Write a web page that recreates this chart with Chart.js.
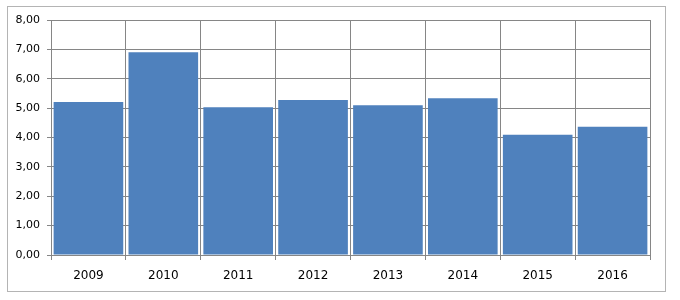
<!DOCTYPE html>
<html>
<head>
<meta charset="utf-8">
<script src="https://cdn.jsdelivr.net/npm/chart.js@4/dist/chart.umd.min.js"></script>
<style>
  html, body { margin: 0; padding: 0; background: #ffffff; }
  #wrap { position: relative; width: 680px; height: 300px; }
</style>
</head>
<body>
<div id="wrap"><canvas id="chart" width="680" height="300"></canvas></div>
<script>
const years = ["2009", "2010", "2011", "2012", "2013", "2014", "2015", "2016"];
const values = [5.21, 6.90, 5.03, 5.28, 5.10, 5.34, 4.09, 4.37];
const yMin = 0;
const yMax = 8;
const yStep = 1;

const gridColor = "#868686";
const barColor = "#4f81bd";

// outer frame around the whole chart
const framePlugin = {
  id: "frame",
  beforeDraw(chart) {
    const ctx = chart.ctx;
    ctx.save();
    ctx.fillStyle = "#ffffff";
    ctx.fillRect(0, 0, chart.width, chart.height);
    ctx.strokeStyle = "#b4b4b4";
    ctx.lineWidth = 1;
    ctx.strokeRect(7.5, 6.5, 658, 285);
    ctx.restore();
  },
};

new Chart(document.getElementById("chart"), {
  type: "bar",
  data: {
    labels: years,
    datasets: [{
      data: values,
      backgroundColor: barColor,
      borderWidth: 0,
      barPercentage: 0.93,
      categoryPercentage: 1,
    }],
  },
  options: {
    responsive: false,
    animation: false,
    layout: { padding: { left: 0, top: 20, right: 30, bottom: 0 } },
    plugins: {
      legend: { display: false },
      tooltip: { enabled: false },
    },
    scales: {
      x: {
        offset: true,
        grid: {
          offset: true,
          color: gridColor,
          tickLength: 5,
          drawTicks: true,
        },
        border: { color: gridColor },
        ticks: {
          color: "#000000",
          padding: 9,
          font: { family: "DejaVu Sans", size: 12 },
        },
        afterFit(scale) { scale.height = 45; },
      },
      y: {
        min: yMin,
        max: yMax,
        grid: {
          color: gridColor,
          tickLength: 4,
          drawTicks: true,
        },
        border: { color: gridColor },
        ticks: {
          stepSize: yStep,
          color: "#000000",
          padding: 7,
          font: { family: "DejaVu Sans", size: 11 },
          callback: (v) => v.toFixed(2).replace(".", ","),
        },
        afterFit(scale) { scale.width = 51; },
      },
    },
  },
  plugins: [framePlugin],
});
</script>
</body>
</html>
